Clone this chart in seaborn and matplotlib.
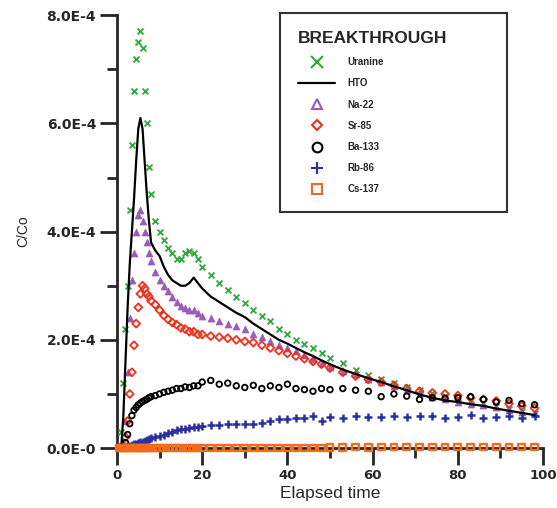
import matplotlib
matplotlib.use("Agg")
import matplotlib.pyplot as plt
from matplotlib.lines import Line2D
from matplotlib.ticker import FuncFormatter, MultipleLocator
import seaborn as sns

# elapsed time of the samples
t = [0.5, 1, 1.5, 2, 2.5, 3, 3.5, 4, 4.5, 5, 5.5, 6, 6.5, 7, 7.5, 8,
     9, 10, 11, 12, 13, 14, 15, 16, 17, 18, 19, 20,
     22, 24, 26, 28, 30, 32, 34, 36, 38, 40, 42, 44, 46, 48, 50,
     53, 56, 59, 62, 65, 68, 71, 74, 77, 80, 83, 86, 89, 92, 95, 98]

# C/Co values, in units of 1e-4
uranine = [0.0, 0.3, 1.2, 2.2, 3.0, 4.4, 5.6, 6.6, 7.2, 7.5, 7.7, 7.4, 6.6, 6.0, 5.2, 4.7,
           4.2, 4.0, 3.85, 3.7, 3.6, 3.5, 3.5, 3.6, 3.65, 3.6, 3.5, 3.35,
           3.2, 3.05, 2.92, 2.8, 2.68, 2.55, 2.45, 2.35, 2.2, 2.1, 2.0, 1.92, 1.85, 1.75, 1.67,
           1.57, 1.45, 1.35, 1.28, 1.2, 1.13, 1.07, 1.02, 0.97, 0.92, 0.88, 0.84, 0.78, 0.73, 0.68, 0.64]
hto = [0.0, 0.0, 0.6, 1.6, 2.6, 3.4, 4.0, 4.6, 5.3, 5.9, 6.1, 5.9, 5.3, 4.7, 4.2, 3.8,
       3.65, 3.55, 3.35, 3.2, 3.1, 3.05, 3.0, 3.0, 3.05, 3.15, 3.05, 2.95,
       2.8, 2.7, 2.6, 2.5, 2.42, 2.3, 2.2, 2.1, 2.0, 1.93, 1.85, 1.77, 1.7, 1.62, 1.55,
       1.45, 1.37, 1.29, 1.22, 1.14, 1.07, 0.99, 0.93, 0.88, 0.85, 0.81, 0.78, 0.73, 0.69, 0.65, 0.61]
na22 = [0.0, 0.0, 0.1, 0.5, 1.4, 2.4, 3.1, 3.6, 4.0, 4.3, 4.4, 4.2, 4.0, 3.8, 3.6, 3.45,
        3.25, 3.1, 3.0, 2.9, 2.8, 2.7, 2.62, 2.58, 2.55, 2.55, 2.5, 2.45,
        2.4, 2.35, 2.3, 2.25, 2.2, 2.1, 2.05, 1.97, 1.9, 1.85, 1.8, 1.72, 1.65, 1.57, 1.5,
        1.43, 1.36, 1.28, 1.22, 1.15, 1.08, 1.01, 0.95, 0.9, 0.86, 0.82, 0.79, 0.75, 0.7, 0.67, 0.64]
sr85 = [0.0, 0.0, 0.05, 0.2, 0.5, 1.0, 1.4, 1.9, 2.3, 2.6, 2.85, 3.0, 2.95, 2.85, 2.8, 2.72,
        2.65, 2.55, 2.45, 2.38, 2.32, 2.28, 2.22, 2.2, 2.15, 2.15, 2.1, 2.1,
        2.07, 2.05, 2.03, 2.0, 1.97, 1.95, 1.9, 1.85, 1.8, 1.75, 1.7, 1.65, 1.6, 1.55, 1.48,
        1.4, 1.33, 1.27, 1.22, 1.16, 1.1, 1.05, 1.02, 1.0, 0.97, 0.93, 0.9, 0.87, 0.82, 0.78, 0.74]
ba133 = [0.0, 0.0, 0.0, 0.1, 0.25, 0.45, 0.6, 0.7, 0.75, 0.8, 0.83, 0.86, 0.88, 0.9, 0.93, 0.95,
         0.97, 1.0, 1.03, 1.05, 1.07, 1.1, 1.1, 1.13, 1.12, 1.15, 1.15, 1.22,
         1.25, 1.18, 1.2, 1.15, 1.12, 1.16, 1.1, 1.15, 1.12, 1.18, 1.1, 1.08, 1.05, 1.1, 1.08,
         1.1, 1.07, 1.05, 0.95, 1.0, 0.96, 0.9, 0.93, 0.92, 0.93, 0.95, 0.9, 0.85, 0.88, 0.82, 0.8]
rb86 = [0.0, 0.0, 0.0, 0.0, 0.02, 0.04, 0.06, 0.07, 0.08, 0.1, 0.11, 0.12, 0.13, 0.15, 0.17, 0.18,
        0.2, 0.23, 0.25, 0.28, 0.3, 0.33, 0.35, 0.35, 0.37, 0.38, 0.38, 0.4,
        0.42, 0.42, 0.45, 0.44, 0.44, 0.45, 0.47, 0.5, 0.53, 0.53, 0.55, 0.55, 0.6, 0.5, 0.58,
        0.55, 0.6, 0.58, 0.57, 0.6, 0.57, 0.6, 0.6, 0.55, 0.58, 0.62, 0.55, 0.58, 0.6, 0.56, 0.6]
cs137 = [0.0, 0.0, 0.0, 0.0, 0.0, 0.0, 0.0, 0.0, 0.0, 0.0, 0.0, 0.0, 0.0, 0.0, 0.0, 0.0,
         0.0, 0.0, 0.0, 0.0, 0.0, 0.0, 0.0, 0.0, 0.0, 0.0, 0.0, 0.0,
         0.0, 0.0, 0.0, 0.0, 0.0, 0.0, 0.0, 0.0, 0.0, 0.0, 0.0, 0.0, 0.0, 0.0, 0.01,
         0.01, 0.02, 0.01, 0.02, 0.02, 0.02, 0.02, 0.02, 0.02, 0.02, 0.02, 0.02, 0.02, 0.02, 0.02, 0.02]

scale = 1e-4
GREEN, PURPLE, RED, BLUE, ORANGE = "#2fa83a", "#9a5cb8", "#f0301c", "#2b2fa0", "#f26a1b"

sns.set_theme(style="ticks")
plt.rcParams["font.family"] = ["Liberation Sans", "DejaVu Sans"]

fig = plt.figure(figsize=(5.57, 5.08), dpi=100)
ax = fig.add_axes([0.21, 0.118, 0.765, 0.852])

def sc(vals):
    return [v * scale for v in vals]

sns.scatterplot(x=t, y=sc(uranine), marker="x", color=GREEN, s=18, linewidth=1.3, ax=ax, zorder=3)
sns.lineplot(x=t, y=sc(hto), color="black", linewidth=1.6, ax=ax, zorder=4)
sns.scatterplot(x=t, y=sc(na22), marker="^", color=PURPLE, s=26, edgecolor=PURPLE, ax=ax, zorder=3)
sns.scatterplot(x=t, y=sc(sr85), marker="D", facecolor="none", edgecolor=RED, s=16, linewidth=1.3, ax=ax, zorder=3)
sns.scatterplot(x=t, y=sc(ba133), marker="o", facecolor="none", edgecolor="black", s=16, linewidth=1.3, ax=ax, zorder=3)
sns.scatterplot(x=t, y=sc(rb86), marker="+", color=BLUE, s=34, linewidth=1.8, ax=ax, zorder=3)
sns.scatterplot(x=t, y=sc(cs137), marker="s", facecolor="none", edgecolor=ORANGE, s=24, linewidth=1.7,
                ax=ax, zorder=5, clip_on=False)

ax.set_xlim(0, 100)
ax.set_ylim(0, 8e-4)
ax.xaxis.set_major_locator(MultipleLocator(20))
ax.xaxis.set_minor_locator(MultipleLocator(10))
ax.yaxis.set_major_locator(MultipleLocator(2e-4))
ax.yaxis.set_minor_locator(MultipleLocator(1e-4))
ax.yaxis.set_major_formatter(FuncFormatter(
    lambda v, p: "0.0E-0" if abs(v) < 1e-9 else f"{v / scale:.1f}E-4"))
ax.xaxis.set_major_formatter(FuncFormatter(lambda v, p: f"{v:.0f}"))

for side in ("top", "right"):
    ax.spines[side].set_visible(False)
for side in ("left", "bottom"):
    ax.spines[side].set_linewidth(2)
ax.tick_params(which="major", direction="out", length=12, width=2, labelsize=10, pad=3)
ax.tick_params(axis="x", which="major", labelsize=9.5)
ax.tick_params(which="minor", direction="out", length=7, width=2)
for lab in ax.get_xticklabels() + ax.get_yticklabels():
    lab.set_fontweight("bold")
    lab.set_family("DejaVu Sans")

ax.set_xlabel("Elapsed time", fontsize=12.5, labelpad=3)
ax.set_ylabel("C/Co", fontsize=10, labelpad=12)

handles = [
    Line2D([], [], linestyle="none", marker="x", color=GREEN, markersize=8, markeredgewidth=1.5),
    Line2D([], [], color="black", linewidth=1.6),
    Line2D([], [], linestyle="none", marker="^", markerfacecolor="none", markeredgecolor=PURPLE,
           markersize=7, markeredgewidth=1.5),
    Line2D([], [], linestyle="none", marker="D", markerfacecolor="none", markeredgecolor=RED,
           markersize=5.5, markeredgewidth=1.5),
    Line2D([], [], linestyle="none", marker="o", markerfacecolor="none", markeredgecolor="black",
           markersize=7, markeredgewidth=1.5),
    Line2D([], [], linestyle="none", marker="+", color=BLUE, markersize=9, markeredgewidth=1.5),
    Line2D([], [], linestyle="none", marker="s", markerfacecolor="none", markeredgecolor=ORANGE,
           markersize=7, markeredgewidth=1.5),
]
labels = ["Uranine", "HTO", "Na-22", "Sr-85", "Ba-133", "Rb-86", "Cs-137"]
leg = ax.legend(handles, labels, title="BREAKTHROUGH", loc="upper left",
                bbox_to_anchor=(0.383, 0.52, 0.533, 0.485), mode="expand", borderaxespad=0,
                fontsize=7, title_fontsize=12.5,
                labelspacing=1.15, handlelength=3.8, handletextpad=1.3,
                borderpad=1.85, frameon=True, fancybox=False, alignment="left")
leg.get_frame().set_edgecolor("black")
leg.get_frame().set_linewidth(1.5)
leg.get_title().set_fontweight("bold")
for txt in leg.get_texts():
    txt.set_fontweight("bold")

fig.savefig("out.png", dpi=100)
